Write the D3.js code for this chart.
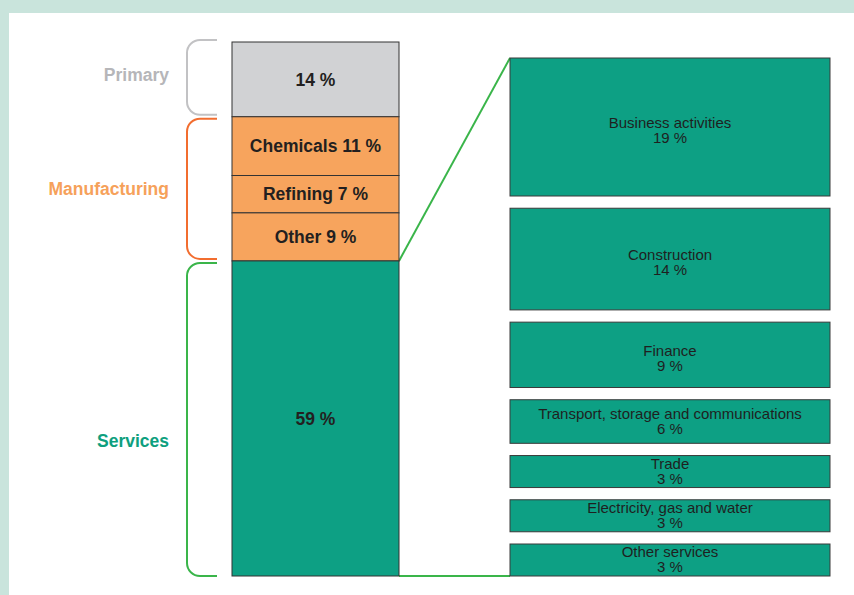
<!DOCTYPE html>
<html>
<head>
<meta charset="utf-8">
<script src="https://cdn.jsdelivr.net/npm/d3@7"></script>
<style>
  body { margin: 0; background: #c9e4dc; }
  svg { display: block; font-family: "Liberation Sans", Arial, Helvetica, sans-serif; }
</style>
</head>
<body>
<div id="wrapper"></div>
<script>
// left stacked bar
const segLabels = ["", "Chemicals", "Refining", "Other", ""] ;
const segValues = [14, 11, 7, 9, 59] ;
const segGroups = ["Primary", "Manufacturing", "Manufacturing", "Manufacturing", "Services"] ;

// groups
const groupNames = ["Primary", "Manufacturing", "Services"] ;

// services breakdown
const serviceNames = ["Business activities", "Construction", "Finance",
  "Transport, storage and communications", "Trade",
  "Electricity, gas and water", "Other services"] ;
const serviceValues = [19, 14, 9, 6, 3, 3, 3] ;

const groupStyle = {
  "Primary":       {fill: "#d1d2d4", label: "#b6b6b9", bracket: "#c2c2c4", dy: -5},
  "Manufacturing": {fill: "#f7a45d", label: "#f6a15a", bracket: "#f26d2f", dy: 0},
  "Services":      {fill: "#0da084", label: "#0e9f7e", bracket: "#3ab54a", dy: 22}
} ;

let dimensions = {
  width: 854,
  height: 595,
  bar: {x0: 232, x1: 399, top: 42, bottom: 576},
  right: {x0: 510, x1: 830, top: 58, bottom: 576},
  bracket: {xl: 187, xr: 217, r: 13}
} ;

const svg = d3.select("#wrapper").append("svg")
    .attr("width", dimensions.width)
    .attr("height", dimensions.height)
;

svg.append("rect")
  .attr("x", 0).attr("y", 0)
  .attr("width", dimensions.width).attr("height", dimensions.height)
  .attr("fill", "#c9e4dc")
;
svg.append("rect")
  .attr("x", 9).attr("y", 13)
  .attr("width", dimensions.width).attr("height", dimensions.height)
  .attr("fill", "#ffffff")
;

const yScale = d3.scaleLinear()
  .domain([0, d3.sum(segValues)])
  .range([dimensions.bar.top, dimensions.bar.bottom])
;

// cumulative starts
let acc = 0 ;
const segments = segValues.map((v, i) => {
  const d = {label: segLabels[i], value: v, group: segGroups[i], start: acc, end: acc + v} ;
  acc += v ;
  return d ;
}) ;

// connector lines (drawn under the bar)
const services = segments[segments.length - 1] ;
svg.append("path")
  .attr("d", `M${dimensions.bar.x1},${yScale(services.start)} L${dimensions.right.x0},${dimensions.right.top}`)
  .attr("stroke", "#3ab54a").attr("stroke-width", 2).attr("fill", "none")
;
svg.append("path")
  .attr("d", `M${dimensions.bar.x1},${yScale(services.end)} L${dimensions.right.x0},${yScale(services.end)}`)
  .attr("stroke", "#3ab54a").attr("stroke-width", 2).attr("fill", "none")
;

const segs = svg.selectAll("g.seg")
  .data(segments)
  .enter().append("g")
    .attr("class", "seg")
;
segs.append("rect")
  .attr("x", dimensions.bar.x0)
  .attr("y", (d) => yScale(d.start))
  .attr("width", dimensions.bar.x1 - dimensions.bar.x0)
  .attr("height", (d) => yScale(d.end) - yScale(d.start))
  .attr("fill", (d) => groupStyle[d.group].fill)
  .attr("stroke", "#333")
  .attr("stroke-width", 1)
;
segs.append("text")
  .attr("x", (dimensions.bar.x0 + dimensions.bar.x1) / 2)
  .attr("y", (d) => (yScale(d.start) + yScale(d.end)) / 2)
  .attr("dy", "0.35em")
  .attr("text-anchor", "middle")
  .attr("font-size", 17.5)
  .attr("font-weight", "bold")
  .attr("fill", "#231f20")
  .text((d) => (d.label ? d.label + " " : "") + d.value + " %")
;

// brackets + group labels
const groupData = groupNames.map((g, i) => {
  const s = segments.filter((d) => d.group == g) ;
  return {name: g, start: d3.min(s, (d) => d.start), end: d3.max(s, (d) => d.end), i: i} ;
}) ;

function bracketPath(y0, y1) {
  const b = dimensions.bracket ;
  const p = d3.path() ;
  p.moveTo(b.xr, y0) ;
  p.arcTo(b.xl, y0, b.xl, y0 + b.r, b.r) ;
  p.lineTo(b.xl, y1 - b.r) ;
  p.arcTo(b.xl, y1, b.xr, y1, b.r) ;
  p.lineTo(b.xr, y1) ;
  return p.toString() ;
}

svg.selectAll("path.bracket")
  .data(groupData)
  .enter().append("path")
    .attr("class", "bracket")
    .attr("d", (d) => bracketPath(yScale(d.start) + (d.i ? 2 : -2), yScale(d.end) + (d.i == 2 ? 0 : -2)))
    .attr("fill", "none")
    .attr("stroke", (d) => groupStyle[d.name].bracket)
    .attr("stroke-width", 2)
;

svg.selectAll("text.group")
  .data(groupData)
  .enter().append("text")
    .attr("class", "group")
    .attr("x", 169)
    .attr("y", (d) => (yScale(d.start) + yScale(d.end)) / 2 + groupStyle[d.name].dy)
    .attr("dy", "0.35em")
    .attr("text-anchor", "end")
    .attr("font-size", 17.5)
    .attr("font-weight", "bold")
    .attr("fill", (d) => groupStyle[d.name].label)
    .text((d) => d.name)
;

// services breakdown boxes
const hScale = d3.scaleLinear()
  .domain([0, d3.max(serviceValues)])
  .range([0, 138])
;
const minH = 32 ;
const heights = serviceValues.map((v) => Math.max(hScale(v), minH)) ;
const gap = (dimensions.right.bottom - dimensions.right.top - d3.sum(heights)) / (heights.length - 1) ;
let yy = dimensions.right.top ;
const boxes = serviceNames.map((n, i) => {
  const d = {name: n, value: serviceValues[i], y: yy, h: heights[i]} ;
  yy += heights[i] + gap ;
  return d ;
}) ;

const bx = svg.selectAll("g.box")
  .data(boxes)
  .enter().append("g")
    .attr("class", "box")
;
bx.append("rect")
  .attr("x", dimensions.right.x0)
  .attr("y", (d) => d.y)
  .attr("width", dimensions.right.x1 - dimensions.right.x0)
  .attr("height", (d) => d.h)
  .attr("fill", "#0da084")
  .attr("stroke", "#3a3a3a")
  .attr("stroke-width", 1)
;
// label block sits a little higher in the short boxes
const textShift = (d) => d.h > 60 ? 1 : -3 ;
const bt = bx.append("text")
  .attr("text-anchor", "middle")
  .attr("font-size", 15)
  .attr("fill", "#1f1f1f")
;
bt.append("tspan")
  .attr("x", (dimensions.right.x0 + dimensions.right.x1) / 2)
  .attr("y", (d) => d.y + d.h / 2 + textShift(d))
  .text((d) => d.name)
;
bt.append("tspan")
  .attr("x", (dimensions.right.x0 + dimensions.right.x1) / 2)
  .attr("y", (d) => d.y + d.h / 2 + textShift(d) + 15)
  .text((d) => d.value + " %")
;
</script>
</body>
</html>
